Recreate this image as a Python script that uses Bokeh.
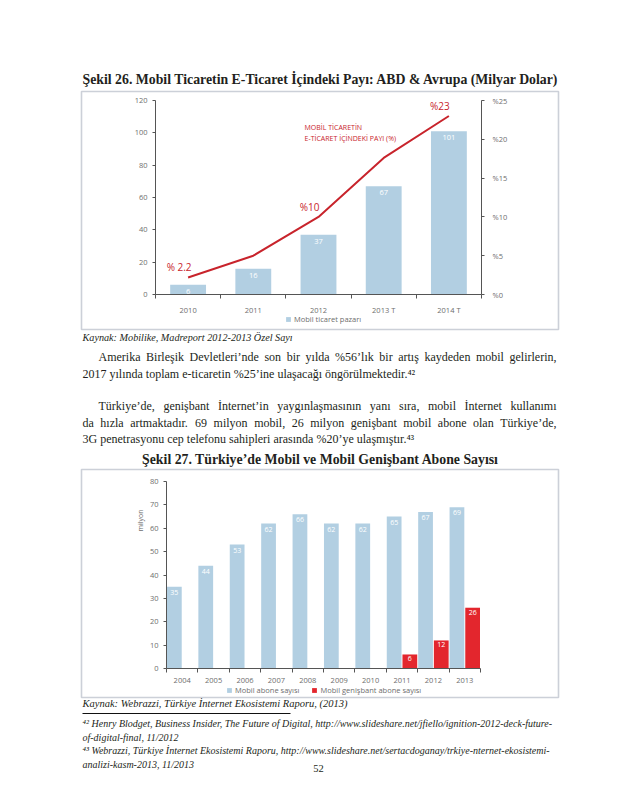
from bokeh.plotting import figure
from bokeh.models import (Range1d, LinearAxis, FixedTicker, SingleIntervalTicker, Label,
                          BoxAnnotation, Legend, LegendItem, PrintfTickFormatter)
from bokeh.embed import file_html
from bokeh.resources import INLINE
from bokeh.core.properties import value

# ---------------- data ----------------
years1 = ["2010", "2011", "2012", "2013 T", "2014 T"]
market = [6, 16, 37, 67, 101]                 # Mobil ticaret pazarı (milyar $)
share = [2.2, 5.0, 10.0, 17.6, 23.0]          # Mobil ticaretin e-ticaret içindeki payı (%)
share_notes = ["% 2.2", "", "%10", "", "%23"]

years2 = ["2004", "2005", "2006", "2007", "2008", "2009", "2010", "2011", "2012", "2013"]
mobile = [35, 44, 53, 62, 66, 62, 62, 65, 67, 69]   # Mobil abone sayısı (milyon)
bb_years = ["2011", "2012", "2013"]
broadband = [6, 12, 26]                              # Mobil genişbant abone sayısı (milyon)

# ---------------- styles ----------------
SERIF = "Liberation Serif"
SANS = "Open Sans"
BLUE = "#b2cfe2"
RED = "#e3262d"
LINE_RED = "#c8242c"
TXT = "#231f20"
TICK = "#6e6e6e"
BOX = "#56647f"
W, H = 638, 798
BODY = 12

# approximate advance widths (1/1000 em) of Liberation Serif, for justified lines
_WID = {" ": 250, "%": 833, ",": 250, ".": 250, "-": 333, "’": 333, "'": 180, ":": 278,
        "(": 333, ")": 333, "/": 278, "İ": 333, "I": 333, "T": 611, "A": 722, "B": 667,
        "D": 722, "G": 722, "S": 556, "ı": 278, "ş": 389, "ğ": 500, "ö": 500, "ü": 500,
        "ç": 444, "⁴": 300, "²": 300, "³": 300}
_WID.update({c: 500 for c in "0123456789bdghnopquvxy"})
_WID.update({c: 444 for c in "acez"})
_WID.update({"f": 333, "r": 333, "i": 278, "j": 278, "l": 278, "t": 278, "s": 389,
             "m": 778, "w": 722, "k": 500})


def text_width(s, size):
    return sum(_WID.get(c, 500) for c in s) * size / 1000.0


def rng(v0, s0, v1, s1, s_start, s_end):
    """Range whose values v0/v1 fall on page pixels s0/s1."""
    k = (v1 - v0) / (s1 - s0)
    return Range1d(start=v0 + (s_start - s0) * k, end=v0 + (s_end - s0) * k)


p = figure(width=W, height=H, output_backend="svg", toolbar_location=None,
           x_range=Range1d(0, W), y_range=Range1d(H, 0),
           x_axis_type=None, y_axis_type=None, min_border=0)
p.grid.visible = False
p.outline_line_color = None
p.background_fill_color = "white"
p.border_fill_color = "white"

n1, n2 = len(years1), len(years2)
p.extra_x_ranges = {
    "c1x": rng(0, 155, n1, 481, 0, W),
    "c2x": rng(0, 166, n2, 480, 0, W),
}
p.extra_y_ranges = {
    "c1y": rng(0, 294, 120, 100, H, 0),
    "c1p": rng(0, 294, 25, 100, H, 0),
    "c2y": rng(0, 668, 80, 481, H, 0),
}


def page_label(x, y, text, size, style="normal", font=SERIF, color=TXT, align="left", angle=0):
    p.add_layout(Label(x=x, y=y, text=text, text_font_size=f"{size}px", text_font=font,
                       text_font_style=style, text_color=color, text_align=align,
                       text_baseline="middle", angle=angle))


def justified(x0, x1, y, text, size):
    words = text.split(" ")
    widths = [text_width(w, size) for w in words]
    gap = (x1 - x0 - sum(widths)) / (len(words) - 1)
    x = x0
    for w, wd in zip(words, widths):
        page_label(x, y, w, size)
        x += wd + gap


def style_axis(ax):
    ax.axis_line_color = "#555555"
    ax.major_tick_line_color = "#555555"
    ax.minor_tick_line_color = "#555555"
    ax.major_tick_in = 0
    ax.major_tick_out = 3
    ax.minor_tick_in = 0
    ax.minor_tick_out = 0
    ax.major_label_text_font_size = "7.5px"
    ax.major_label_text_font = SANS
    ax.major_label_text_color = TICK
    ax.major_label_standoff = 5


def make_legend(items, loc):
    return Legend(items=items, orientation="horizontal", location=loc, glyph_width=6,
                  glyph_height=6, label_text_font_size="7.5px", label_text_font=SANS,
                  label_text_color=TICK, label_standoff=3, spacing=12, padding=0, margin=0,
                  label_height=8, border_line_color=None, background_fill_alpha=0)


# ---------------- boxes & rule ----------------
p.add_layout(BoxAnnotation(left=81, right=558, top=91, bottom=329, fill_alpha=0,
                           line_color=BOX, line_width=1.6, level="underlay"))
p.add_layout(BoxAnnotation(left=81, right=558, top=469, bottom=697, fill_alpha=0,
                           line_color=BOX, line_width=1.6, level="underlay"))
p.add_layout(BoxAnnotation(left=82, right=290, top=712.5, bottom=713.5, fill_color="#111111",
                           fill_alpha=1, line_color=None))

# ================= Chart 26 =================
x1 = [i + 0.5 for i in range(n1)]
bars1 = p.vbar(x=x1, top=market, width=0.55, fill_color=BLUE, line_color=None,
               x_range_name="c1x", y_range_name="c1y")
p.text(x=x1, y=market, text=[str(v) for v in market], x_range_name="c1x", y_range_name="c1y",
       text_align="center", text_baseline="top", y_offset=4, text_color="white",
       text_font_size="7.5px", text_font=value(SANS))
p.line(x=x1, y=share, x_range_name="c1x", y_range_name="c1p", line_color=LINE_RED, line_width=2)
p.text(x=x1, y=share, text=share_notes, x_range_name="c1x", y_range_name="c1p",
       x_offset=-9, y_offset=-10, text_align="center", text_baseline="middle",
       text_color=LINE_RED, text_font_size="10px", text_font=value(SANS))

ax = LinearAxis(x_range_name="c1x", y_range_name="c1y", fixed_location=0, bounds=(0, 120),
                ticker=SingleIntervalTicker(interval=20))
style_axis(ax)
p.add_layout(ax, "left")

ax = LinearAxis(x_range_name="c1x", y_range_name="c1y", fixed_location=0, bounds=(0, n1),
                ticker=FixedTicker(ticks=x1, minor_ticks=list(range(n1 + 1))))
ax.major_label_overrides = {x: y for x, y in zip(x1, years1)}
style_axis(ax)
ax.major_tick_out = 0
ax.minor_tick_out = 4
ax.major_label_standoff = 6
p.add_layout(ax, "below")

ax = LinearAxis(x_range_name="c1x", y_range_name="c1p", fixed_location=n1, bounds=(0, 25),
                ticker=SingleIntervalTicker(interval=5), formatter=PrintfTickFormatter(format="%%%d"))
style_axis(ax)
ax.major_label_standoff = 8
p.add_layout(ax, "right")

p.add_layout(make_legend([LegendItem(label="Mobil ticaret pazarı", renderers=[bars1])],
                         (285, H - 324)))

# ================= Chart 27 =================
x2 = [i + 0.5 for i in range(n2)]
xb_blue = [x - 0.25 for x in x2]
xb_red = [years2.index(y) + 0.75 for y in bb_years]
bars_b = p.vbar(x=xb_blue, top=mobile, width=0.47, fill_color=BLUE, line_color=None,
                x_range_name="c2x", y_range_name="c2y")
bars_r = p.vbar(x=xb_red, top=broadband, width=0.47, fill_color=RED, line_color=None,
                x_range_name="c2x", y_range_name="c2y")
p.text(x=xb_blue, y=mobile, text=[str(v) for v in mobile], x_range_name="c2x", y_range_name="c2y",
       text_align="center", text_baseline="top", y_offset=3, text_color="white",
       text_font_size="7px", text_font=value(SANS))
p.text(x=xb_red, y=broadband, text=[str(v) for v in broadband], x_range_name="c2x",
       y_range_name="c2y", text_align="center", text_baseline="top", y_offset=2,
       text_color="white", text_font_size="7px", text_font=value(SANS))

ax = LinearAxis(x_range_name="c2x", y_range_name="c2y", fixed_location=0, bounds=(0, 80),
                ticker=SingleIntervalTicker(interval=10))
style_axis(ax)
p.add_layout(ax, "left")

ax = LinearAxis(x_range_name="c2x", y_range_name="c2y", fixed_location=0, bounds=(0, n2),
                ticker=FixedTicker(ticks=x2, minor_ticks=list(range(n2 + 1))))
ax.major_label_overrides = {x: y for x, y in zip(x2, years2)}
style_axis(ax)
ax.major_tick_out = 0
ax.minor_tick_out = 4
ax.major_label_standoff = 5
p.add_layout(ax, "below")

p.add_layout(make_legend([LegendItem(label="Mobil abone sayısı", renderers=[bars_b]),
                          LegendItem(label="Mobil genişbant abone sayısı", renderers=[bars_r])],
                         (226, H - 695)))

# ================= page text =================
page_label(82, 79, "Şekil 26. Mobil Ticaretin E-Ticaret İçindeki Payı: ABD & Avrupa (Milyar Dolar)",
           13.8, style="bold")
page_label(304, 127, "MOBİL TİCARETİN", 7, font=SANS, color=LINE_RED)
page_label(304, 138, "E-TİCARET İÇİNDEKİ PAYI (%)", 7, font=SANS, color=LINE_RED)
page_label(82, 337, "Kaynak: Mobilike, Madreport 2012-2013 Özel Sayı", 10.2, style="italic")
justified(98, 556, 356, "Amerika Birleşik Devletleri’nde son bir yılda %56’lık bir artış kaydeden mobil gelirlerin,", BODY)
page_label(82, 373, "2017 yılında toplam e-ticaretin %25’ine ulaşacağı öngörülmektedir.⁴²", BODY)
justified(98, 556, 405, "Türkiye’de, genişbant İnternet’in yaygınlaşmasının yanı sıra, mobil İnternet kullanımı", BODY)
justified(82, 556, 422, "da hızla artmaktadır. 69 milyon mobil, 26 milyon genişbant mobil abone olan Türkiye’de,", BODY)
page_label(82, 438, "3G penetrasyonu cep telefonu sahipleri arasında %20’ye ulaşmıştır.⁴³", BODY)
page_label(320, 459, "Şekil 27. Türkiye’de Mobil ve Mobil Genişbant Abone Sayısı", 13.8, style="bold",
           align="center")
page_label(140, 520, "milyon", 7, font=SANS, color=TICK, align="center", angle=1.5708)
page_label(82, 703, "Kaynak: Webrazzi, Türkiye İnternet Ekosistemi Raporu, (2013)", 10.5, style="italic")
page_label(82, 723, "⁴² Henry Blodget, Business Insider, The Future of Digital, http://www.slideshare.net/jfiello/ignition-2012-deck-future-", 10, style="italic")
page_label(82, 737, "of-digital-final, 11/2012", 10, style="italic")
page_label(82, 750, "⁴³ Webrazzi, Türkiye İnternet Ekosistemi Raporu, http://www.slideshare.net/sertacdoganay/trkiye-nternet-ekosistemi-", 10, style="italic")
page_label(82, 764, "analizi-kasm-2013, 11/2013", 10, style="italic")
page_label(318, 768, "52", 10.5, align="center")

open("out.html", "w").write(file_html(p, INLINE))
